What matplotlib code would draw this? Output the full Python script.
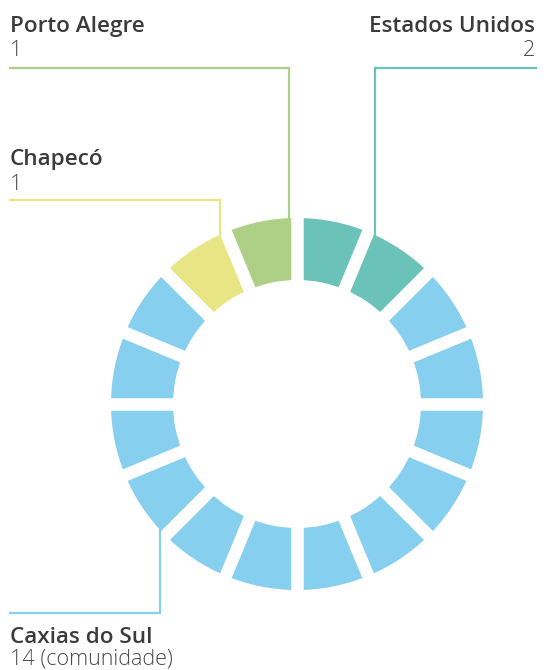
import matplotlib.pyplot as plt
import numpy as np

# data
places = ['Estados Unidos', 'Caxias do Sul', 'Chapecó', 'Porto Alegre']
segments = [2, 12, 1, 1]          # ring segments drawn per place
notes = ['2', '14 (comunidade)', '1', '1']
colors = ['#6AC2B9', '#87CFEF', '#E8E584', '#AECF86']

# layout (pixels, y measured from top)
W, H = 550, 670
cx, cy = 297, 404
R_out, R_in = 186, 124

fig = plt.figure(figsize=(W / 100, H / 100), dpi=100)
ax = fig.add_axes([0, 0, 1, 1])

seg_colors = np.repeat(colors, segments)
n = len(seg_colors)
ax.pie(np.ones(n), colors=seg_colors, startangle=90, counterclock=False,
       radius=R_out, center=(cx, H - cy),
       wedgeprops=dict(width=R_out - R_in, linewidth=0))

# white gaps between segments
for k in range(n):
    th = np.radians(90 - 360 * k / n)
    ax.plot([cx, cx + (R_out + 5) * np.cos(th)],
            [H - cy, H - cy + (R_out + 5) * np.sin(th)],
            color='white', lw=9, solid_capstyle='butt', zorder=3)

ax.set_xlim(0, W)
ax.set_ylim(0, H)
ax.set_aspect('equal')
ax.axis('off')

labels = {
    'Porto Alegre': dict(lx=289, ly=68, tx=10, ty=32, ny=56, ha='left', end=10),
    'Estados Unidos': dict(lx=375, ly=68, tx=535, ty=32, ny=56, ha='right', end=536),
    'Chapecó': dict(lx=220, ly=200, tx=10, ty=165, ny=190, ha='left', end=10),
    'Caxias do Sul': dict(lx=160, ly=613, tx=10, ty=643, ny=665, ha='left', end=10),
}

for place, note, col in zip(places, notes, colors):
    d = labels[place]
    dx = d['lx'] - cx
    dy = np.sqrt(R_out ** 2 - dx ** 2)
    y_ring = cy + dy if d['ly'] > cy else cy - dy
    ax.plot([d['end'], d['lx'], d['lx']], [H - d['ly'], H - d['ly'], H - y_ring],
            color=col, lw=1.6, solid_joinstyle='miter', zorder=4)
    ax.text(d['tx'], H - d['ty'], place, ha=d['ha'], va='baseline',
            fontsize=16.2, family='Open Sans', weight='semibold', color='#3b3b3b')
    ax.text(d['tx'], H - d['ny'], note, ha=d['ha'], va='baseline',
            fontsize=15.5, family='Open Sans', weight='light', color='#4a4a4a')

fig.savefig('out.png', dpi=100)
